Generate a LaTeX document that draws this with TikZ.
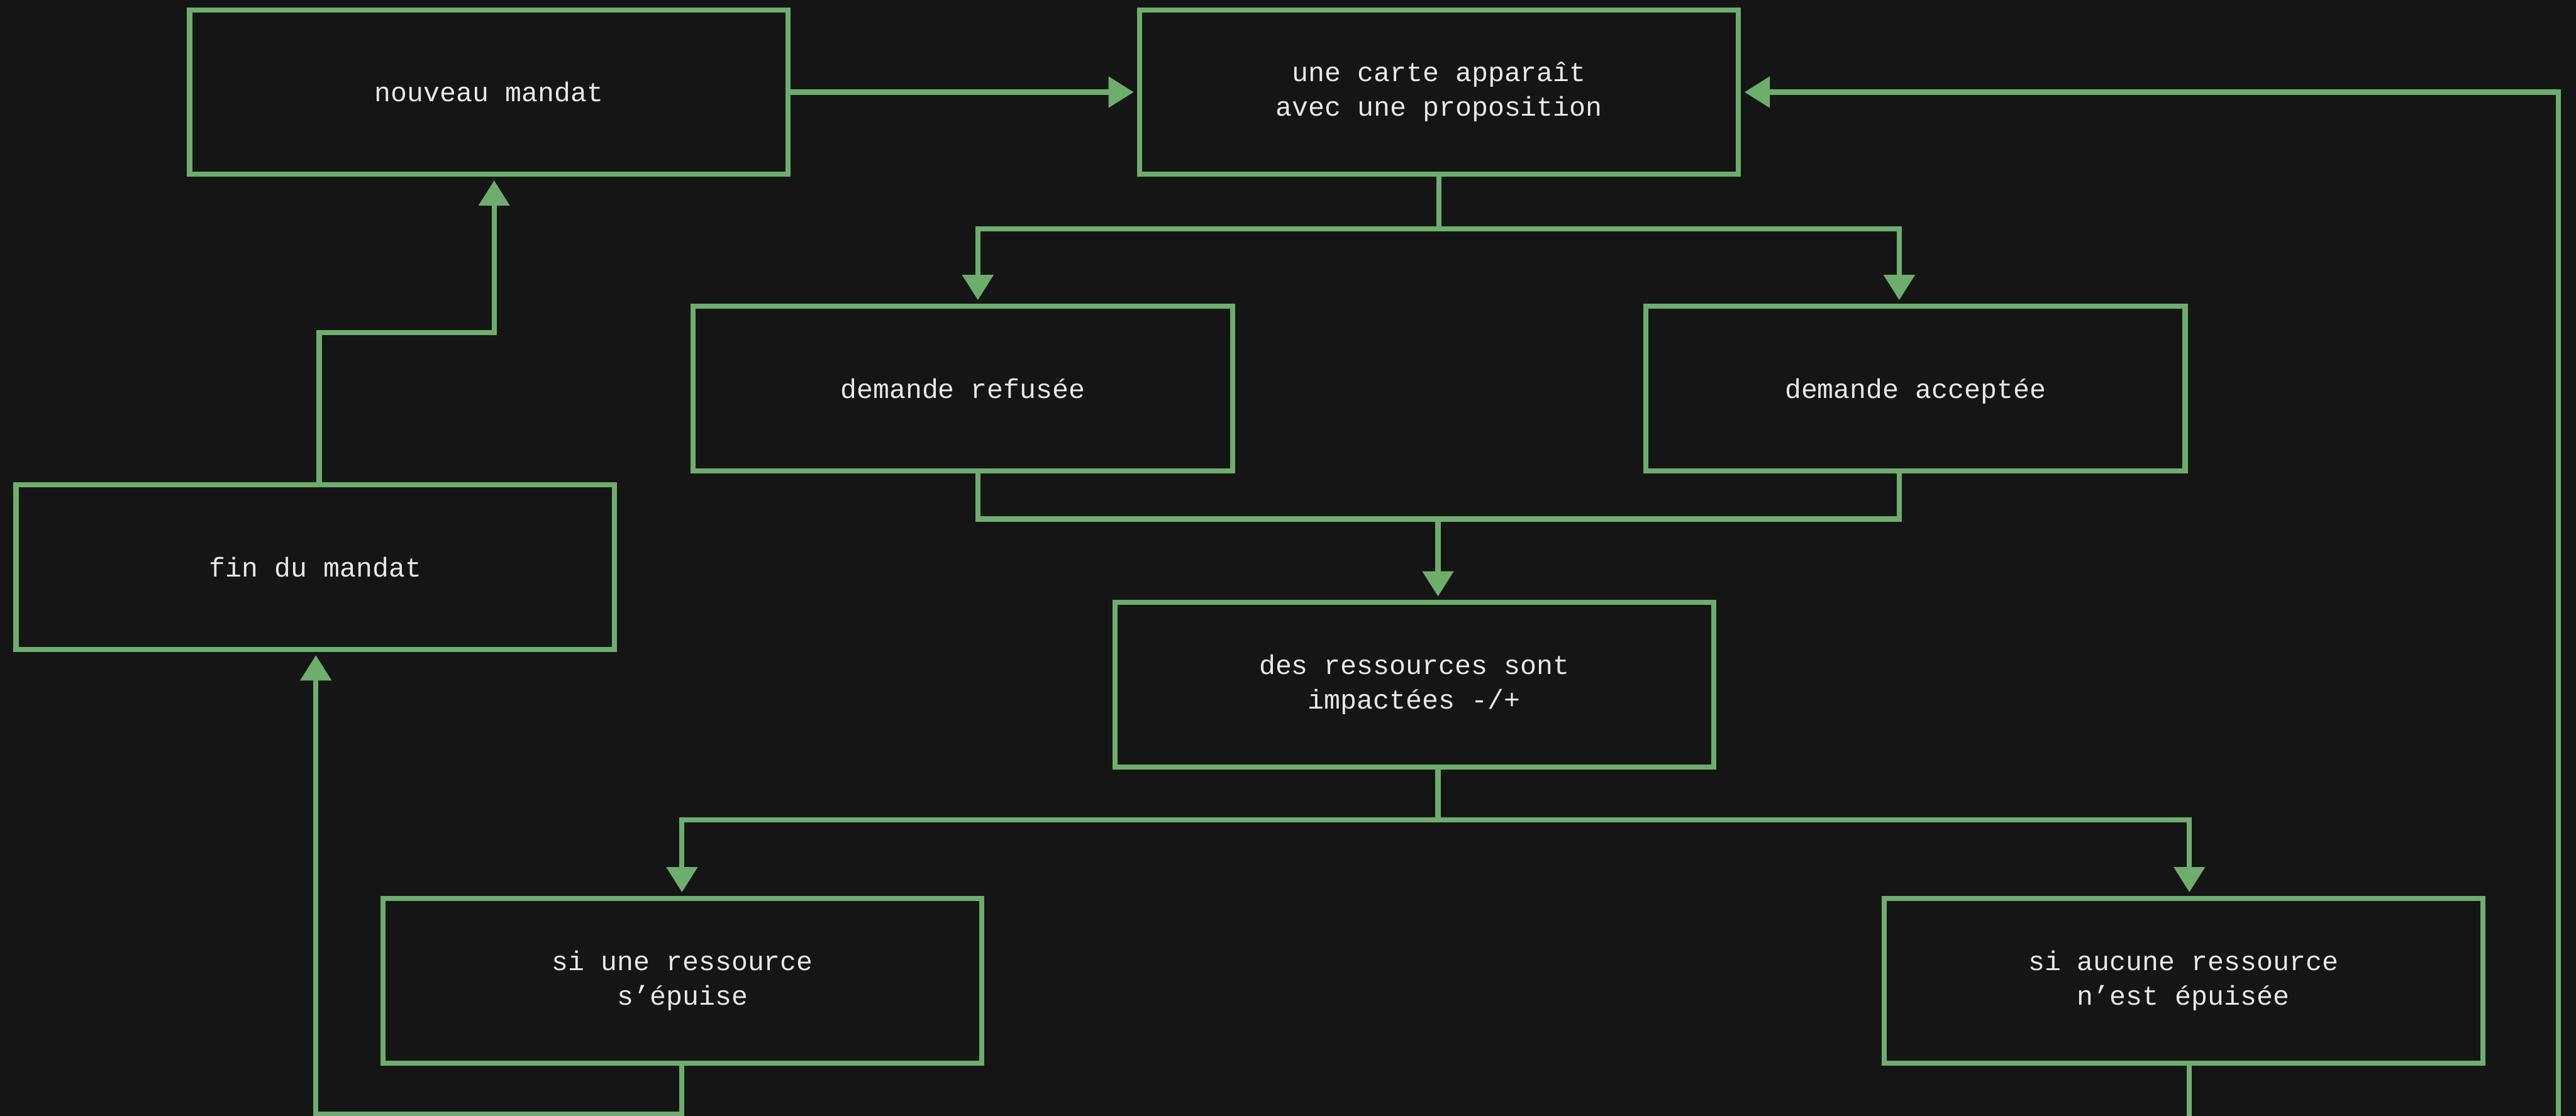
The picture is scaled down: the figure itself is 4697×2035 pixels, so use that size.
\documentclass[tikz,border=0pt]{standalone}
\usepackage{fontspec}
\setmonofont{Liberation Mono}
\usetikzlibrary{arrows.meta,calc}
\definecolor{bgdark}{HTML}{151515}
\definecolor{leaf}{HTML}{6DAE6D}
\definecolor{ink}{HTML}{E8E8E8}
\tikzset{
  stepbox/.style={draw=leaf, line width=0.093cm, fill=bgdark,
    minimum width=10.91cm, minimum height=3cm, inner sep=0pt, outer sep=0pt,
    align=center, text=ink, font=\ttfamily\fontsize{14.1}{17.9}\selectfont},
  narrowbox/.style={stepbox, minimum width=9.83cm},
  link/.style={draw=leaf, line width=0.093cm},
  flow/.style={link, -{Triangle[length=0.46cm,width=0.55cm]}, shorten >=0.11cm}
}
\begin{document}
\begin{tikzpicture}[x=0.01cm, y=-0.01cm]
  \useasboundingbox (0,0) rectangle (4697,2035);
  \fill[bgdark] (0,0) rectangle (4697,2035);
  \clip (0,0) rectangle (4697,2035);

  % steps of the cycle
  \node[stepbox]   (nm)    at (891.5,168)  {nouveau mandat};
  \node[stepbox]   (carte) at (2624,168)   {une carte apparaît\\avec une proposition};
  \node[narrowbox] (ref)   at (1755.5,708.5) {demande refusée};
  \node[narrowbox, text depth=0pt] (acc) at (3492.5,708.5) {demande acceptée};
  \node[stepbox]   (fin)   at (575,1034)   {fin du mandat};
  \node[stepbox]   (res)   at (2578.5,1249) {des ressources sont\\impactées -/+};
  \node[stepbox]   (une)   at (1244.5,1788.5) {si une ressource\\s’épuise};
  \node[stepbox]   (auc)   at (3981,1788.5) {si aucune ressource\\n’est épuisée};

  % new term -> card
  \draw[flow] (nm.east) -- (carte.west);

  % card -> both answers
  \draw[flow] (carte.south) -- ++(0,99) -| ($(ref.north)+(27.5,0)$);
  \draw[flow] ($(carte.south)+(0,99)$) -| ($(acc.north)+(-29.5,0)$);

  % both answers merge -> resources
  \draw[link] ($(ref.south)+(27.5,0)$) -- ++(0,88) -| ($(acc.south)+(-29.5,0)$);
  \draw[flow] ($(res.north)+(43.5,-151)$) -- ($(res.north)+(43.5,0)$);

  % resources -> two outcomes
  \draw[flow] ($(res.south)+(43.5,0)$) -- ++(0,96) -| ($(une.north)+(-1,0)$);
  \draw[flow] ($(res.south)+(43.5,96)$) -| ($(auc.north)+(11,0)$);

  % exhausted resource -> end of term -> new term
  \draw[flow] ($(une.south)+(-1,0)$) -- ++(0,93) -| ($(fin.south)+(1,0)$);
  \draw[flow] ($(fin.north)+(7,0)$) -- ++(0,-277) -| ($(nm.south)+(9.5,0)$);

  % nothing exhausted -> next card
  \draw[flow] ($(auc.south)+(11,0)$) -- ++(0,103) -| ($(carte.east)+(1495,0)$) -- (carte.east);
\end{tikzpicture}
\end{document}
